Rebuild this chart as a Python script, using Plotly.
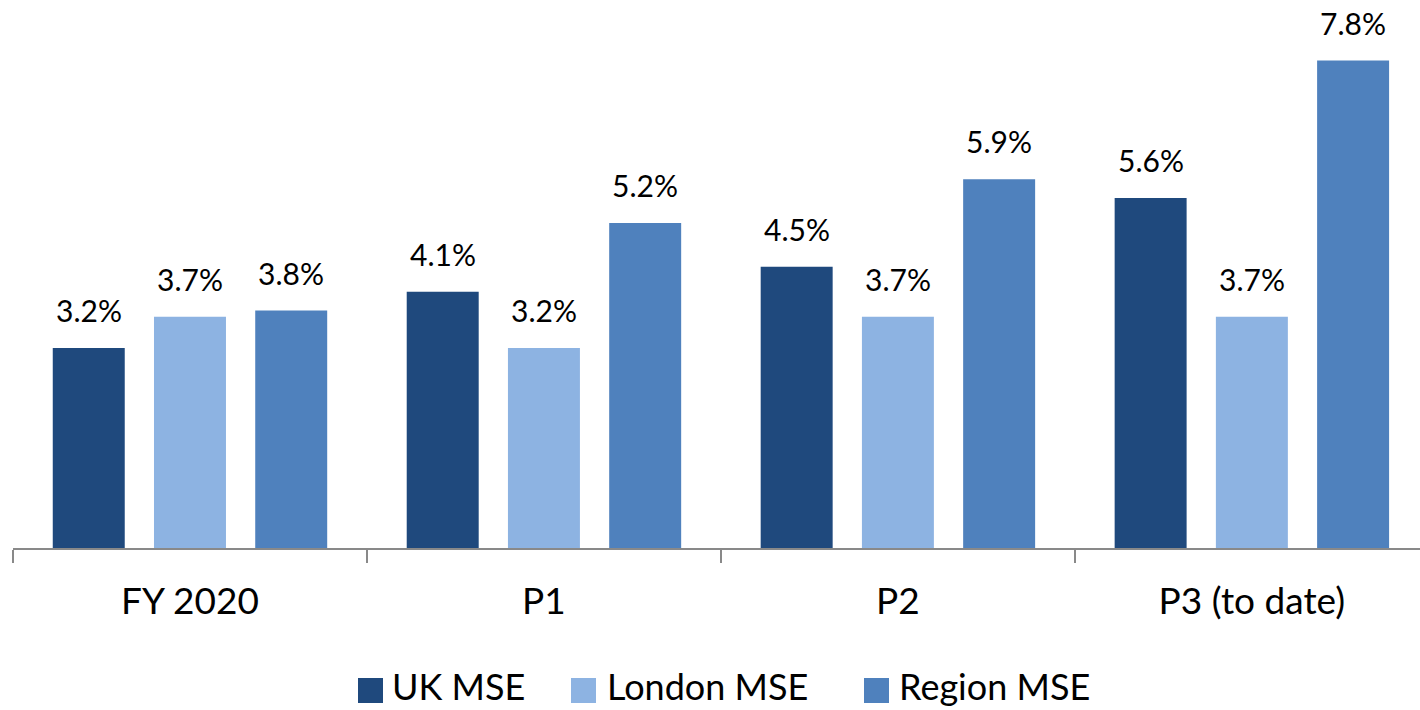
import plotly.graph_objects as go

# Grouped bar chart: MSE rates by period
categories = ["FY 2020", "P1", "P2", "P3 (to date)"]
series_names = ["UK MSE", "London MSE", "Region MSE"]
uk_mse = [3.2, 4.1, 4.5, 5.6]
london_mse = [3.7, 3.2, 3.7, 3.7]
region_mse = [3.8, 5.2, 5.9, 7.8]
colors = ["#1F497D", "#8DB3E2", "#4F81BD"]

series_values = [uk_mse, london_mse, region_mse]

W, H = 1420, 710
M_L, M_R, M_T, M_B = 13, 0, 0, 162
BARGAP = 0.142
BARGROUPGAP = 0.289
X_MAX = 3.475
Y_MAX = 8.768
FONT = "Lato, 'Open Sans', sans-serif"

x_pos = list(range(len(categories)))

fig = go.Figure()
for name, vals, col in zip(series_names, series_values, colors):
    fig.add_trace(go.Bar(
        x=x_pos, y=vals, name=name,
        marker=dict(color=col, line=dict(width=0)),
        showlegend=False,
    ))

# value labels above each bar, placed at the grouped-bar offsets
n = len(series_values)
slot = (1 - BARGAP) / n
annotations = []
for k, vals in enumerate(series_values):
    off = (k - (n - 1) / 2) * slot
    for i, v in enumerate(vals):
        annotations.append(dict(
            x=x_pos[i] + off, y=v, xref="x", yref="y",
            text=f"{v:.1f}%", showarrow=False,
            yanchor="bottom", yshift=18,
            font=dict(family=FONT, size=30, color="#000000"),
        ))

# legend built from squares and labels below the axis
plot_w = W - M_L - M_R
plot_h = H - M_T - M_B


def px_x(p):
    return (p - M_L) / plot_w


def px_y(p):
    return (H - M_B - p) / plot_h


legend_sq = [358, 571, 864]
legend_tx = [391, 606, 898]
shapes = []
for name, col, sx, tx in zip(series_names, colors, legend_sq, legend_tx):
    shapes.append(dict(
        type="rect", xref="paper", yref="paper",
        x0=px_x(sx), x1=px_x(sx + 25), y0=px_y(703), y1=px_y(678),
        fillcolor=col, line=dict(width=0),
    ))
    annotations.append(dict(
        x=px_x(tx), y=px_y(686), xref="paper", yref="paper",
        xanchor="left", yanchor="middle", text=name, showarrow=False,
        borderpad=0,
        font=dict(family=FONT, size=36, color="#000000"),
    ))

fig.update_layout(
    width=W, height=H,
    margin=dict(l=M_L, r=M_R, t=M_T, b=M_B),
    paper_bgcolor="white", plot_bgcolor="white",
    barmode="group", bargap=BARGAP, bargroupgap=BARGROUPGAP,
    font=dict(family=FONT, color="#000000"),
    annotations=annotations, shapes=shapes,
    showlegend=False,
)
fig.update_xaxes(
    range=[-0.5, X_MAX],
    tickmode="array", tickvals=x_pos, ticktext=categories,
    ticks="", showgrid=False, zeroline=False,
    showline=True, linecolor="#898989", linewidth=2,
    tickfont=dict(family=FONT, size=37, color="#000000"),
    ticklabelstandoff=20,
    minor=dict(
        tickmode="array", tickvals=[i - 0.5 for i in x_pos],
        ticks="outside", ticklen=13, tickwidth=2, tickcolor="#898989",
        showgrid=False,
    ),
)
fig.update_yaxes(
    range=[0, Y_MAX], visible=False, showgrid=False, zeroline=False,
)

fig.write_html("out.html")
